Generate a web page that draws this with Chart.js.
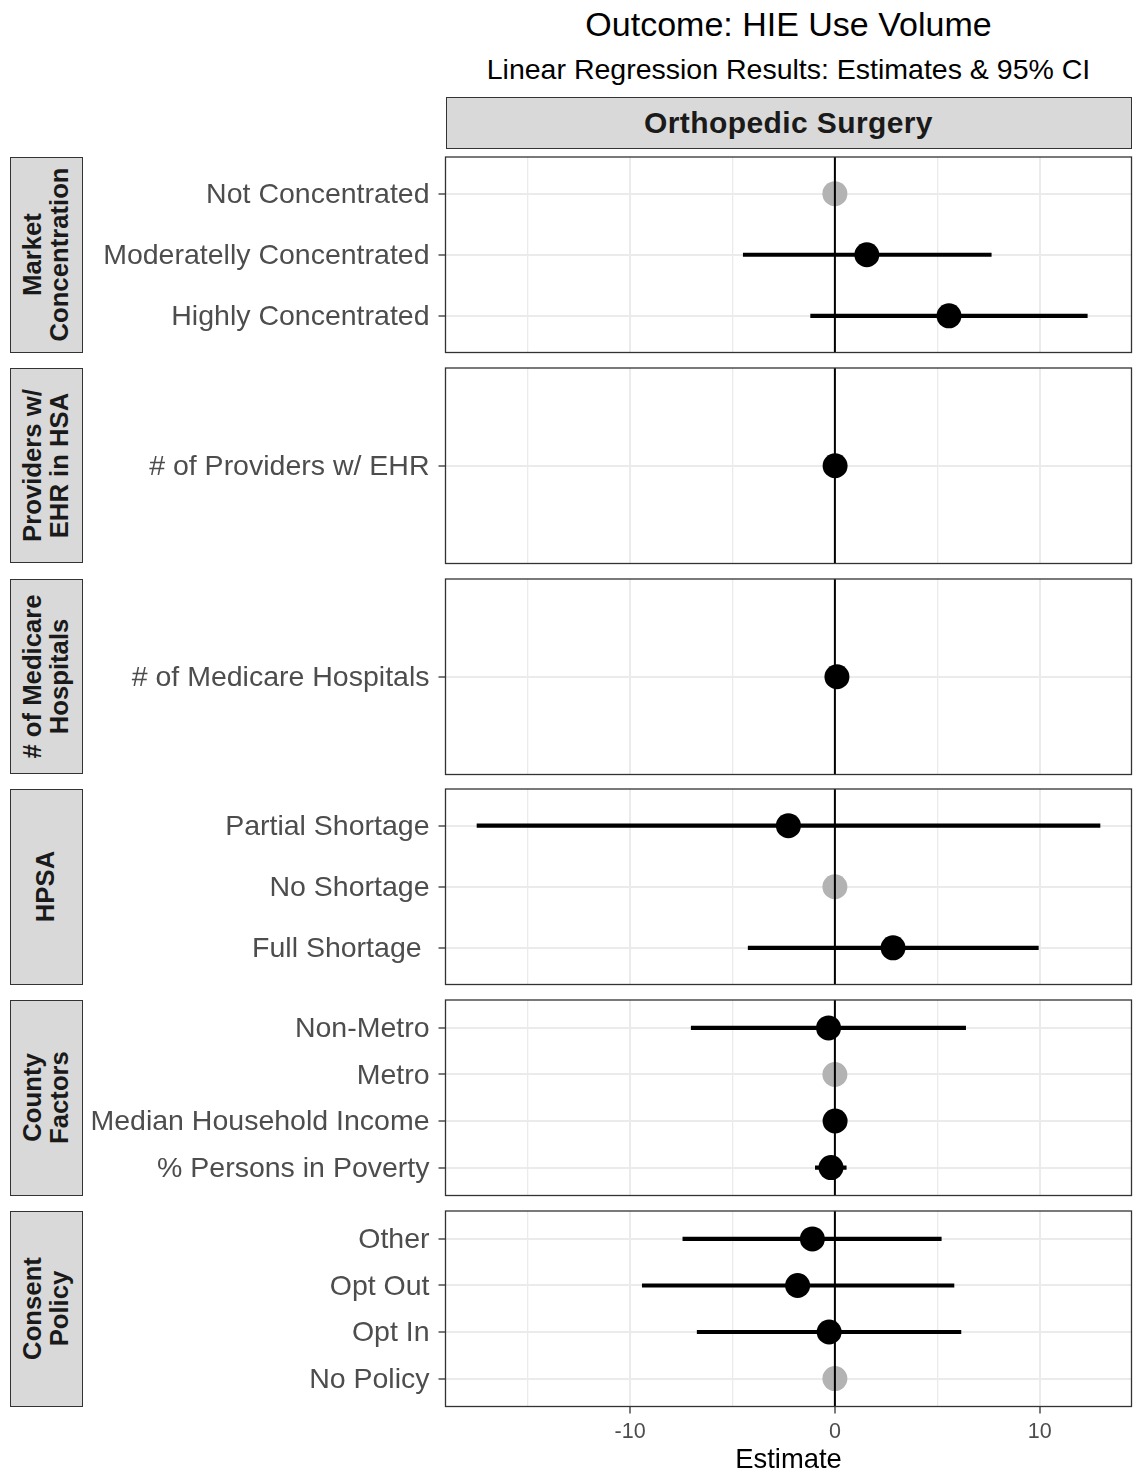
<!DOCTYPE html>
<html>
<head>
<meta charset="utf-8">
<script src="https://cdn.jsdelivr.net/npm/chart.js@4.4.1/dist/chart.umd.min.js"></script>
<style>
  html, body { margin: 0; padding: 0; background: #ffffff; }
  #root { position: relative; width: 1136px; height: 1472px; overflow: hidden;
          font-family: "Liberation Sans", Arial, Helvetica, sans-serif; }
  .txt { position: absolute; white-space: pre; text-align: center; }
  .strip { position: absolute; background: #D9D9D9; border: 1.3px solid #333333; box-sizing: border-box; overflow: hidden; }
  .cv { position: absolute; left: 0; }
</style>
</head>
<body>
<div id="root"></div>
<script>
// ---------------- DATA ----------------
const chartTitle = "Outcome: HIE Use Volume";
const chartSubtitle = "Linear Regression Results: Estimates & 95% CI";
const columnStrip = "Orthopedic Surgery";
const xAxisTitle = "Estimate";

const facetNames = [
  ["Market", "Concentration"],
  ["Providers w/", "EHR in HSA"],
  ["# of Medicare", "Hospitals"],
  ["HPSA"],
  ["County", "Factors"],
  ["Consent", "Policy"]
];

const termLabels = [
  "Not Concentrated", "Moderatelly Concentrated", "Highly Concentrated",
  "# of Providers w/ EHR",
  "# of Medicare Hospitals",
  "Partial Shortage", "No Shortage", "Full Shortage ",
  "Non-Metro", "Metro", "Median Household Income", "% Persons in Poverty",
  "Other", "Opt Out", "Opt In", "No Policy"
];
const termFacet   = [0, 0, 0, 1, 2, 3, 3, 3, 4, 4, 4, 4, 5, 5, 5, 5];
const estimates   = [0, 1.56, 5.57, 0.01, 0.10, -2.27, 0, 2.84, -0.31, 0, 0.01, -0.19, -1.10, -1.82, -0.28, 0];
const ciLow       = [null, -4.49, -1.20, -0.08, -0.15, -17.49, null, -4.25, -7.03, null, -0.05, -0.97, -7.44, -9.42, -6.74, null];
const ciHigh      = [null, 7.65, 12.34, 0.10, 0.35, 12.96, null, 9.95, 6.40, null, 0.07, 0.57, 5.21, 5.83, 6.17, null];
const isReference = [true, false, false, false, false, false, true, false, false, true, false, false, false, false, false, true];

const xMajorTicks = [-10, 0, 10];
const xMinorTicks = [-15, -5, 5];
const referenceLine = 0;

// ---------------- LAYOUT / STYLE ----------------
const FONT = '"Liberation Sans", Arial, Helvetica, sans-serif';
const W = 1136, H = 1472;
const PLOT_LEFT = 445.5, PLOT_RIGHT = 1131.5;
const PANEL_TOP0 = 157, PANEL_STEP = 210.8, PANEL_H = 195.5, PAD = 2;
const STRIP_LEFT = 10, STRIP_W = 73;
const DISC_EXPAND = 0.6;

const root = document.getElementById('root');
function addText(txt, css) {
  const d = document.createElement('div');
  d.className = 'txt';
  d.textContent = txt;
  Object.assign(d.style, css);
  root.appendChild(d);
  return d;
}

// titles
addText(chartTitle, { left: PLOT_LEFT + 'px', width: (PLOT_RIGHT - PLOT_LEFT) + 'px', top: '7px',
  fontSize: '34px', lineHeight: '34px', color: '#000' });
addText(chartSubtitle, { left: PLOT_LEFT + 'px', width: (PLOT_RIGHT - PLOT_LEFT) + 'px', top: '55px',
  fontSize: '28.5px', lineHeight: '28.5px', color: '#000' });

// top strip
{
  const s = document.createElement('div');
  s.className = 'strip';
  Object.assign(s.style, { left: PLOT_LEFT + 'px', top: '96.7px', width: (PLOT_RIGHT - PLOT_LEFT) + 'px', height: '52.3px' });
  const t = document.createElement('div');
  t.textContent = columnStrip;
  Object.assign(t.style, { position: 'absolute', left: 0, right: 0, top: '1px', bottom: 0, display: 'flex',
    alignItems: 'center', justifyContent: 'center', fontWeight: 'bold', fontSize: '30px',
    letterSpacing: '0.4px', color: '#1A1A1A' });
  s.appendChild(t);
  root.appendChild(s);
}

// x range from data (5% expansion like ggplot)
const allX = estimates.concat(ciLow.filter(v => v !== null), ciHigh.filter(v => v !== null));
const dMin = Math.min(...allX), dMax = Math.max(...allX);
const xMin = dMin - 0.05 * (dMax - dMin);
const xMax = dMax + 0.05 * (dMax - dMin);
const allXTicks = xMajorTicks.concat(xMinorTicks).sort((a, b) => a - b);

const panelBorder = {
  id: 'panelBorder',
  afterDraw(chart) {
    const { ctx, chartArea: a } = chart;
    ctx.save();
    ctx.strokeStyle = '#333333';
    ctx.lineWidth = 1.3;
    ctx.strokeRect(a.left, a.top, a.right - a.left, a.bottom - a.top);
    ctx.restore();
  }
};

function zeroPad(sc) { sc.paddingTop = 0; sc.paddingBottom = 0; sc.paddingLeft = 0; sc.paddingRight = 0; }

facetNames.forEach((fname, p) => {
  const idx = termLabels.map((_, i) => i).filter(i => termFacet[i] === p);
  const labels = idx.map(i => termLabels[i]);
  const n = labels.length;
  const isLast = p === facetNames.length - 1;
  const top = PANEL_TOP0 + p * PANEL_STEP;
  const canvasTop = top - PAD;
  const canvasH = isLast ? (H - canvasTop) : PANEL_H + 2 * PAD;

  // left strip
  const s = document.createElement('div');
  s.className = 'strip';
  Object.assign(s.style, { left: STRIP_LEFT + 'px', top: top + 'px', width: STRIP_W + 'px', height: PANEL_H + 'px' });
  const inner = document.createElement('div');
  Object.assign(inner.style, { position: 'absolute', width: PANEL_H + 'px', height: STRIP_W + 'px',
    left: ((STRIP_W - PANEL_H) / 2 - 1.3) + 'px', top: ((PANEL_H - STRIP_W) / 2 - 1.3) + 'px',
    transform: 'rotate(-90deg)', display: 'flex', flexDirection: 'column', justifyContent: 'center',
    alignItems: 'center', fontWeight: 'bold', fontSize: '25.7px', lineHeight: '26.7px', color: '#1A1A1A',
    whiteSpace: 'pre', textAlign: 'center' });
  fname.forEach(line => { const l = document.createElement('div'); l.textContent = line; inner.appendChild(l); });
  s.appendChild(inner);
  root.appendChild(s);

  // canvas
  const cv = document.createElement('canvas');
  cv.className = 'cv';
  cv.width = W; cv.height = Math.round(canvasH);
  cv.style.top = canvasTop + 'px';
  cv.style.width = W + 'px'; cv.style.height = Math.round(canvasH) + 'px';
  root.appendChild(cv);

  const ciData = [];
  idx.forEach((i, k) => {
    if (!isReference[i] && ciLow[i] !== null) {
      ciData.push({ x: ciLow[i], y: k + 1 }, { x: ciHigh[i], y: k + 1 }, { x: NaN, y: NaN });
    }
  });
  const ptData = idx.map((i, k) => ({ x: estimates[i], y: k + 1 }));
  const ptColors = idx.map(i => isReference[i] ? '#B3B3B3' : '#000000');
  const yMin = 1 - DISC_EXPAND, yMax = n + DISC_EXPAND;

  new Chart(cv, {
    type: 'scatter',
    data: {
      datasets: [
        { type: 'line', data: ciData, showLine: true, spanGaps: false, borderColor: '#000', borderWidth: 4.2,
          borderCapStyle: 'butt', pointRadius: 0, order: 3 },
        { type: 'scatter', data: ptData, pointRadius: 12.5, pointBackgroundColor: ptColors,
          pointBorderWidth: 0, pointBorderColor: ptColors, order: 2 },
        { type: 'line', data: [{ x: referenceLine, y: yMin }, { x: referenceLine, y: yMax }], showLine: true,
          borderColor: '#000', borderWidth: 2, pointRadius: 0, order: 1 }
      ]
    },
    options: {
      responsive: false,
      animation: false,
      events: [],
      layout: { autoPadding: false,
        padding: { top: PAD, bottom: isLast ? 0 : (Math.round(canvasH) - PAD - PANEL_H), left: 0, right: W - PLOT_RIGHT } },
      plugins: { legend: { display: false }, tooltip: { enabled: false } },
      scales: {
        x: {
          type: 'linear', min: xMin, max: xMax, position: 'bottom',
          afterBuildTicks: sc => { sc.ticks = allXTicks.map(v => ({ value: v })); },
          afterFit: sc => { sc.height = isLast ? (H - (top + PANEL_H)) : 0; zeroPad(sc); },
          border: { display: false },
          grid: {
            color: '#EBEBEB',
            lineWidth: c => (c.tick && xMajorTicks.includes(c.tick.value)) ? 2 : 1.3,
            drawTicks: isLast, tickLength: 7, tickWidth: 1.3,
            tickColor: c => (c.tick && xMajorTicks.includes(c.tick.value)) ? '#333333' : 'rgba(0,0,0,0)'
          },
          ticks: {
            display: isLast, autoSkip: false, maxRotation: 0, minRotation: 0, padding: 5.5,
            color: '#4D4D4D', font: { family: FONT, size: 21.5 },
            callback: v => xMajorTicks.includes(v) ? String(v) : ''
          },
          title: { display: isLast, text: xAxisTitle, color: '#000', padding: { top: 0, bottom: -2 },
            font: { family: FONT, size: 27.4, lineHeight: 1 } }
        },
        y: {
          type: 'linear', min: yMin, max: yMax, reverse: true, position: 'left',
          afterBuildTicks: sc => { sc.ticks = labels.map((_, k) => ({ value: k + 1 })); },
          afterFit: sc => { sc.width = PLOT_LEFT; zeroPad(sc); },
          border: { display: false },
          grid: { color: '#EBEBEB', lineWidth: 2, drawTicks: true, tickLength: 7, tickWidth: 1.3, tickColor: '#333333' },
          ticks: {
            autoSkip: false, padding: 9, labelOffset: 1.5, color: '#4D4D4D', font: { family: FONT, size: 28.5 },
            callback: v => labels[Math.round(v) - 1]
          }
        }
      }
    },
    plugins: [panelBorder]
  });
});
</script>
</body>
</html>
